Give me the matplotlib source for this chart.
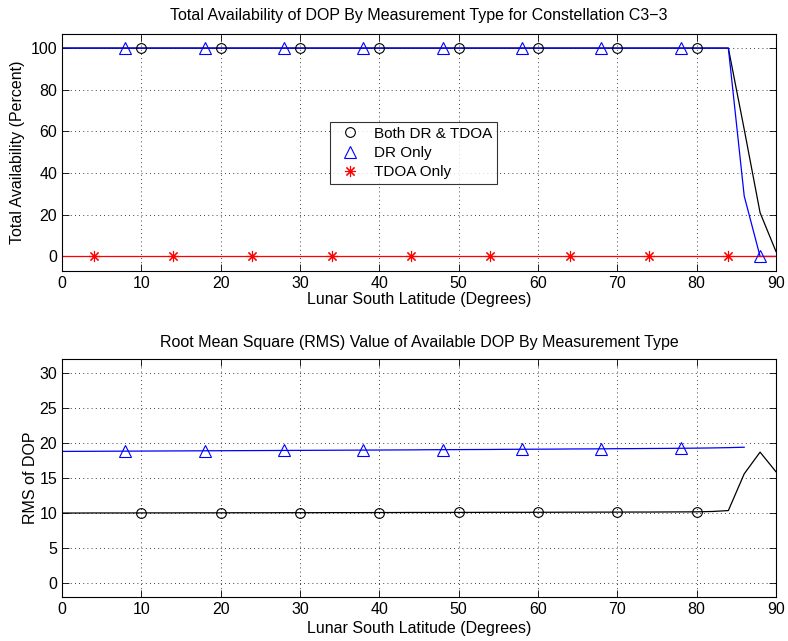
import numpy as np
import matplotlib
matplotlib.use("Agg")
import matplotlib.pyplot as plt

plt.rcParams['font.family'] = ['Liberation Sans', 'DejaVu Sans']
plt.rcParams['font.size'] = 11.5

# latitude samples (deg)
lat = list(range(0, 92, 2))

# total availability (percent)
avail_both = [100] * 43 + [61, 21, 2.4]
avail_dr = [100] * 43 + [29, 0, 0]
avail_tdoa = [0] * 46

# RMS of available DOP
rms_both = [10.00, 10.00, 10.01, 10.01, 10.01, 10.02, 10.02, 10.02, 10.03, 10.03,
            10.03, 10.04, 10.04, 10.04, 10.05, 10.05, 10.05, 10.06, 10.06, 10.06,
            10.07, 10.07, 10.08, 10.08, 10.08, 10.09, 10.09, 10.10, 10.10, 10.10,
            10.11, 10.11, 10.12, 10.12, 10.13, 10.13, 10.14, 10.14, 10.15, 10.16,
            10.17, 10.22, 10.35, 15.6, 18.7, 15.9]
rms_dr = [18.80, 18.81, 18.82, 18.83, 18.84, 18.85, 18.86, 18.87, 18.88, 18.89,
          18.90, 18.91, 18.92, 18.93, 18.94, 18.95, 18.96, 18.97, 18.98, 18.99,
          19.00, 19.01, 19.02, 19.04, 19.05, 19.06, 19.07, 19.08, 19.10, 19.11,
          19.12, 19.13, 19.15, 19.16, 19.17, 19.19, 19.20, 19.22, 19.23, 19.25,
          19.27, 19.30, 19.34, 19.40, np.nan, np.nan]

labels = ["Both DR & TDOA", "DR Only", "TDOA Only"]
BLUE, RED = "#0000ff", "#ff0000"
STAR = (8, 2, 0)  # matlab-style asterisk

fig = plt.figure(figsize=(7.88, 6.41), dpi=100)
ax1 = fig.add_axes([0.0787, 0.5772, 0.906, 0.3705])
ax2 = fig.add_axes([0.0787, 0.0686, 0.906, 0.3713])

def style(ax, xpad):
    ax.set_xlim(0, 90)
    ax.set_xticks(range(0, 100, 10))
    ax.grid(True, color="k", linestyle=(0, (1, 4)), linewidth=0.6)
    ax.tick_params(direction="in", top=True, right=True, length=5, width=0.6, labelsize=11.5)
    for s in ax.spines.values():
        s.set_linewidth(0.8)
    ax.set_xlabel("Lunar South Latitude (Degrees)", labelpad=xpad)

# top: availability
ax1.plot(lat, avail_both, "k-", lw=0.9)
ax1.plot(lat, avail_dr, "-", color=BLUE, lw=0.9)
ax1.plot(lat, avail_tdoa, "-", color=RED, lw=0.9)
m1, = ax1.plot(lat, avail_both, "ko", mfc="none", ms=7, mew=0.8, ls="none", markevery=slice(5, 41, 5))
m2, = ax1.plot(lat, avail_dr, "^", color=BLUE, mfc="none", ms=8, mew=0.8, ls="none", markevery=slice(4, 45, 5))
m3, = ax1.plot(lat, avail_tdoa, color=RED, marker=STAR, ms=8, mew=0.8, ls="none", markevery=slice(2, 43, 5))
ax1.set_ylim(-7, 107)
ax1.set_yticks(range(0, 101, 20))
style(ax1, 1)
ax1.set_ylabel("Total Availability (Percent)", labelpad=4)
ax1.set_title("Total Availability of DOP By Measurement Type for Constellation C3\u22123", fontsize=11.5, pad=10)
leg = ax1.legend([m1, m2, m3], labels, loc="center left", bbox_to_anchor=(0.375, 0.497),
                 frameon=True, fancybox=False, edgecolor="k", borderpad=0.3,
                 handletextpad=0.6, labelspacing=0.35, fontsize=11, handlelength=2.0,
                 borderaxespad=0)
leg.get_frame().set_linewidth(0.8)

# bottom: RMS DOP
ax2.plot(lat, rms_both, "k-", lw=0.9)
ax2.plot(lat, rms_dr, "-", color=BLUE, lw=0.9)
ax2.plot(lat, rms_both, "ko", mfc="none", ms=7, mew=0.8, ls="none", markevery=slice(5, 41, 5))
ax2.plot(lat, rms_dr, "^", color=BLUE, mfc="none", ms=8, mew=0.8, ls="none", markevery=slice(4, 40, 5))
ax2.set_ylim(-2, 32)
ax2.set_yticks(range(0, 31, 5))
style(ax2, 3)
ax2.set_ylabel("RMS of DOP", labelpad=1)
ax2.set_title("Root Mean Square (RMS) Value of Available DOP By Measurement Type", fontsize=11.5, pad=9)

fig.savefig("out.png", dpi=100)
